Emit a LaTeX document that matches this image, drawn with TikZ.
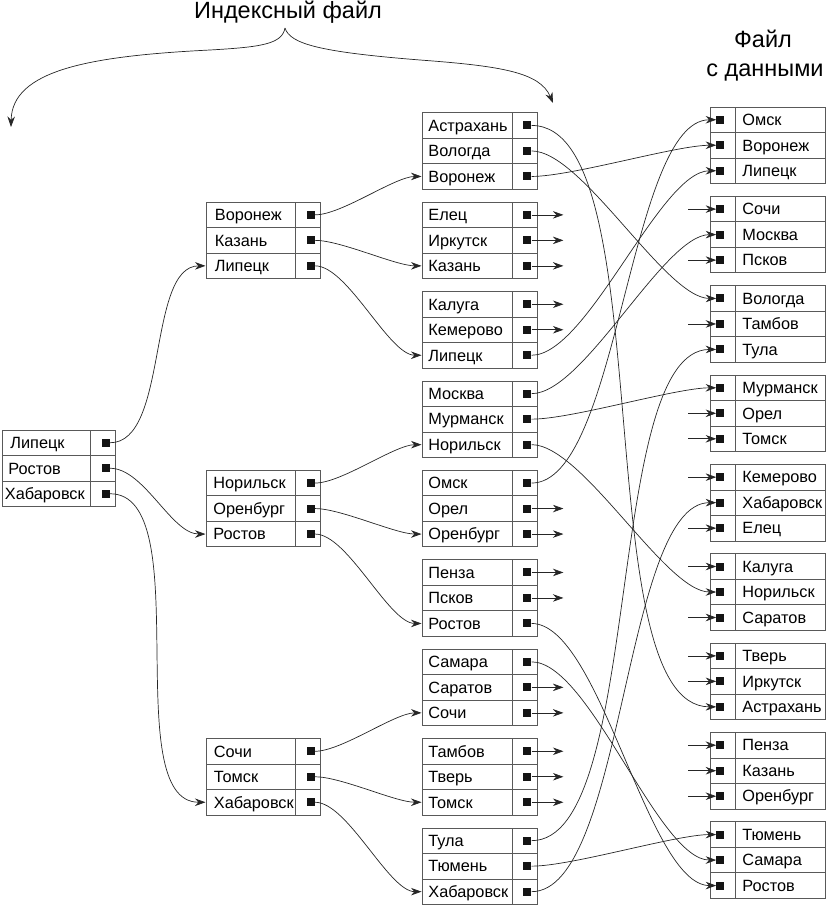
\documentclass[tikz,border=0pt]{standalone}
\usepackage{fontspec}
\setmainfont{Liberation Sans}
\usetikzlibrary{arrows.meta,calc}
\definecolor{boxc}{gray}{0.35}
\definecolor{linec}{gray}{0.15}
\definecolor{sqc}{gray}{0.08}
\tikzset{
  cell/.style={draw=boxc, line width=0.8pt, rectangle, inner sep=0pt,
    minimum height=25.5pt, anchor=west, text height=11.5pt, text depth=0pt,
    font=\fontsize{16.3}{19}\selectfont},
  sq/.style={rectangle, fill=sqc, draw=none, inner sep=0pt, minimum size=8pt},
  ptr/.style={draw=linec, line width=0.7pt, -{Stealth[length=10.5pt,width=7.5pt]}},
  curve/.style={ptr, out=0, in=180, looseness=0.55},
  ttl/.style={anchor=base, font=\fontsize{23.5}{28}\selectfont, inner sep=0pt}
}
% index box: name, x, top, text width, pad, three labels
\newcommand\ibox[8]{%
\foreach \lab [count=\i] in {#6,#7,#8}{%
  \pgfmathsetmacro\yc{#3+(\i-0.5)*25.5}%
  \node[cell, minimum width=#4pt] (#1r\i) at (#2,\yc) {\makebox[#4pt][l]{\hspace{#5pt}\lab}};
  \node[cell, minimum width=25pt] (#1p\i) at (#2+#4,\yc) {};
  \node[sq, xshift=3pt] (#1s\i) at (#1p\i.center) {};
  \coordinate (#1e\i) at ($(#1s\i)+(36,0)$);
}}
% data box: name, top, three labels
\newcommand\dbox[5]{%
\foreach \lab [count=\i] in {#3,#4,#5}{%
  \pgfmathsetmacro\yc{#2+(\i-0.5)*25.5}%
  \node[cell, minimum width=25pt] (#1p\i) at (710,\yc) {};
  \node[cell, minimum width=90pt] (#1r\i) at (735,\yc) {\makebox[90pt][l]{\hspace{7pt}\lab}};
  \node[sq, xshift=-2.5pt] (#1s\i) at (#1p\i.center) {};
  \coordinate (#1e\i) at (688,\yc);
}}
\begin{document}
\begin{tikzpicture}[x=1pt,y=-1pt]
\useasboundingbox (0,0) rectangle (826,905);

% titles
\node[ttl] (title) at (288,18) {Индексный файл};
\node[ttl] (dt1) at (763,47) {Файл};
\node[ttl] (dt2) at (765,76) {с данными};

% brace arrows
\coordinate (apex) at (285,28);
\coordinate (lt) at (11,127);
\coordinate (rt) at (553,103);
\draw[ptr] (apex) .. controls (282,44) and (262,47) .. (210,50)
  .. controls (90,56) and (12,70) .. (lt);
\draw[ptr] (apex) .. controls (290,44) and (320,52) .. (420,60)
  .. controls (500,66) and (540,72) .. (rt);

% level 0
\ibox{z}{2}{430}{88}{6}{\hspace{2pt}Липецк}{Ростов}{\hspace{-3.5pt}Хабаровск}
% level 1
\ibox{a1}{205.5}{202.1}{89.5}{9}{Воронеж}{Казань}{Липецк}
\ibox{a2}{205.5}{470.3}{89.5}{7.5}{Норильск}{Оренбург}{Ростов}
\ibox{a3}{205.5}{738.5}{89.5}{8}{Сочи}{Томск}{Хабаровск}
% level 2
\ibox{b1}{421.5}{112.7}{90}{6.5}{Астрахань}{Вологда}{Воронеж}
\ibox{b2}{421.5}{202.1}{90}{6.5}{Елец}{Иркутск}{Казань}
\ibox{b3}{421.5}{291.5}{90}{6.5}{Калуга}{Кемерово}{Липецк}
\ibox{b4}{421.5}{380.9}{90}{6.5}{Москва}{Мурманск}{Норильск}
\ibox{b5}{421.5}{470.3}{90}{6.5}{Омск}{Орел}{Оренбург}
\ibox{b6}{421.5}{559.7}{90}{6.5}{Пенза}{Псков}{Ростов}
\ibox{b7}{421.5}{649.1}{90}{6.5}{Самара}{Саратов}{Сочи}
\ibox{b8}{421.5}{738.5}{90}{6.5}{Тамбов}{Тверь}{Томск}
\ibox{b9}{421.5}{827.9}{90}{6.5}{Тула}{Тюмень}{Хабаровск}
% data file
\dbox{d1}{107}{Омск}{Воронеж}{Липецк}
\dbox{d2}{196.35}{Сочи}{Москва}{Псков}
\dbox{d3}{285.7}{Вологда}{Тамбов}{Тула}
\dbox{d4}{375.05}{Мурманск}{Орел}{Томск}
\dbox{d5}{464.4}{Кемерово}{Хабаровск}{Елец}
\dbox{d6}{553.75}{Калуга}{Норильск}{Саратов}
\dbox{d7}{643.1}{Тверь}{Иркутск}{Астрахань}
\dbox{d8}{732.45}{Пенза}{Казань}{Оренбург}
\dbox{d9}{821.8}{Тюмень}{Самара}{Ростов}

% level 0 -> level 1
\draw[curve, looseness=0.75] (zs1) to (a1r3.west);
\draw[curve, looseness=0.75] (zs2) to (a2r3.west);
\draw[curve, looseness=0.7] (zs3) to (a3r3.west);
% level 1 -> level 2
\draw[curve, looseness=0.6] (a1s1) to (b1r3.west);
\draw[curve, looseness=0.6] (a1s2) to (b2r3.west);
\draw[curve, looseness=0.6] (a1s3) to (b3r3.west);
\draw[curve, looseness=0.6] (a2s1) to (b4r3.west);
\draw[curve, looseness=0.6] (a2s2) to (b5r3.west);
\draw[curve, looseness=0.6] (a2s3) to (b6r3.west);
\draw[curve, looseness=0.6] (a3s1) to (b7r3.west);
\draw[curve, looseness=0.6] (a3s2) to (b8r3.west);
\draw[curve, looseness=0.6] (a3s3) to (b9r3.west);
% level 2 -> data
\draw[curve] (b1s1) to (d7s3);
\draw[curve] (b1s2) to (d3s1);
\draw[curve] (b1s3) to (d1s2);
\draw[curve] (b3s3) to (d1s3);
\draw[curve] (b4s1) to (d2s2);
\draw[curve] (b4s2) to (d4s1);
\draw[curve] (b4s3) to (d6s2);
\draw[curve] (b5s1) to (d1s1);
\draw[curve] (b6s3) to (d9s3);
\draw[curve] (b7s1) to (d9s2);
\draw[curve] (b9s1) to (d3s3);
\draw[curve] (b9s2) to (d9s1);
\draw[curve] (b9s3) to (d5s2);
% stubs
\foreach \bx/\k in {b2/1,b2/2,b2/3,b3/1,b3/2,b5/2,b5/3,b6/1,b6/2,b7/2,b7/3,b8/1,b8/2,b8/3}
  \draw[ptr] (\bx s\k) -- (\bx e\k);
\foreach \bx/\k in {d2/1,d2/3,d3/2,d4/2,d4/3,d5/1,d5/3,d6/1,d6/3,d7/1,d7/2,d8/1,d8/2,d8/3}
  \draw[ptr] (\bx e\k) -- (\bx s\k);
\end{tikzpicture}
\end{document}
